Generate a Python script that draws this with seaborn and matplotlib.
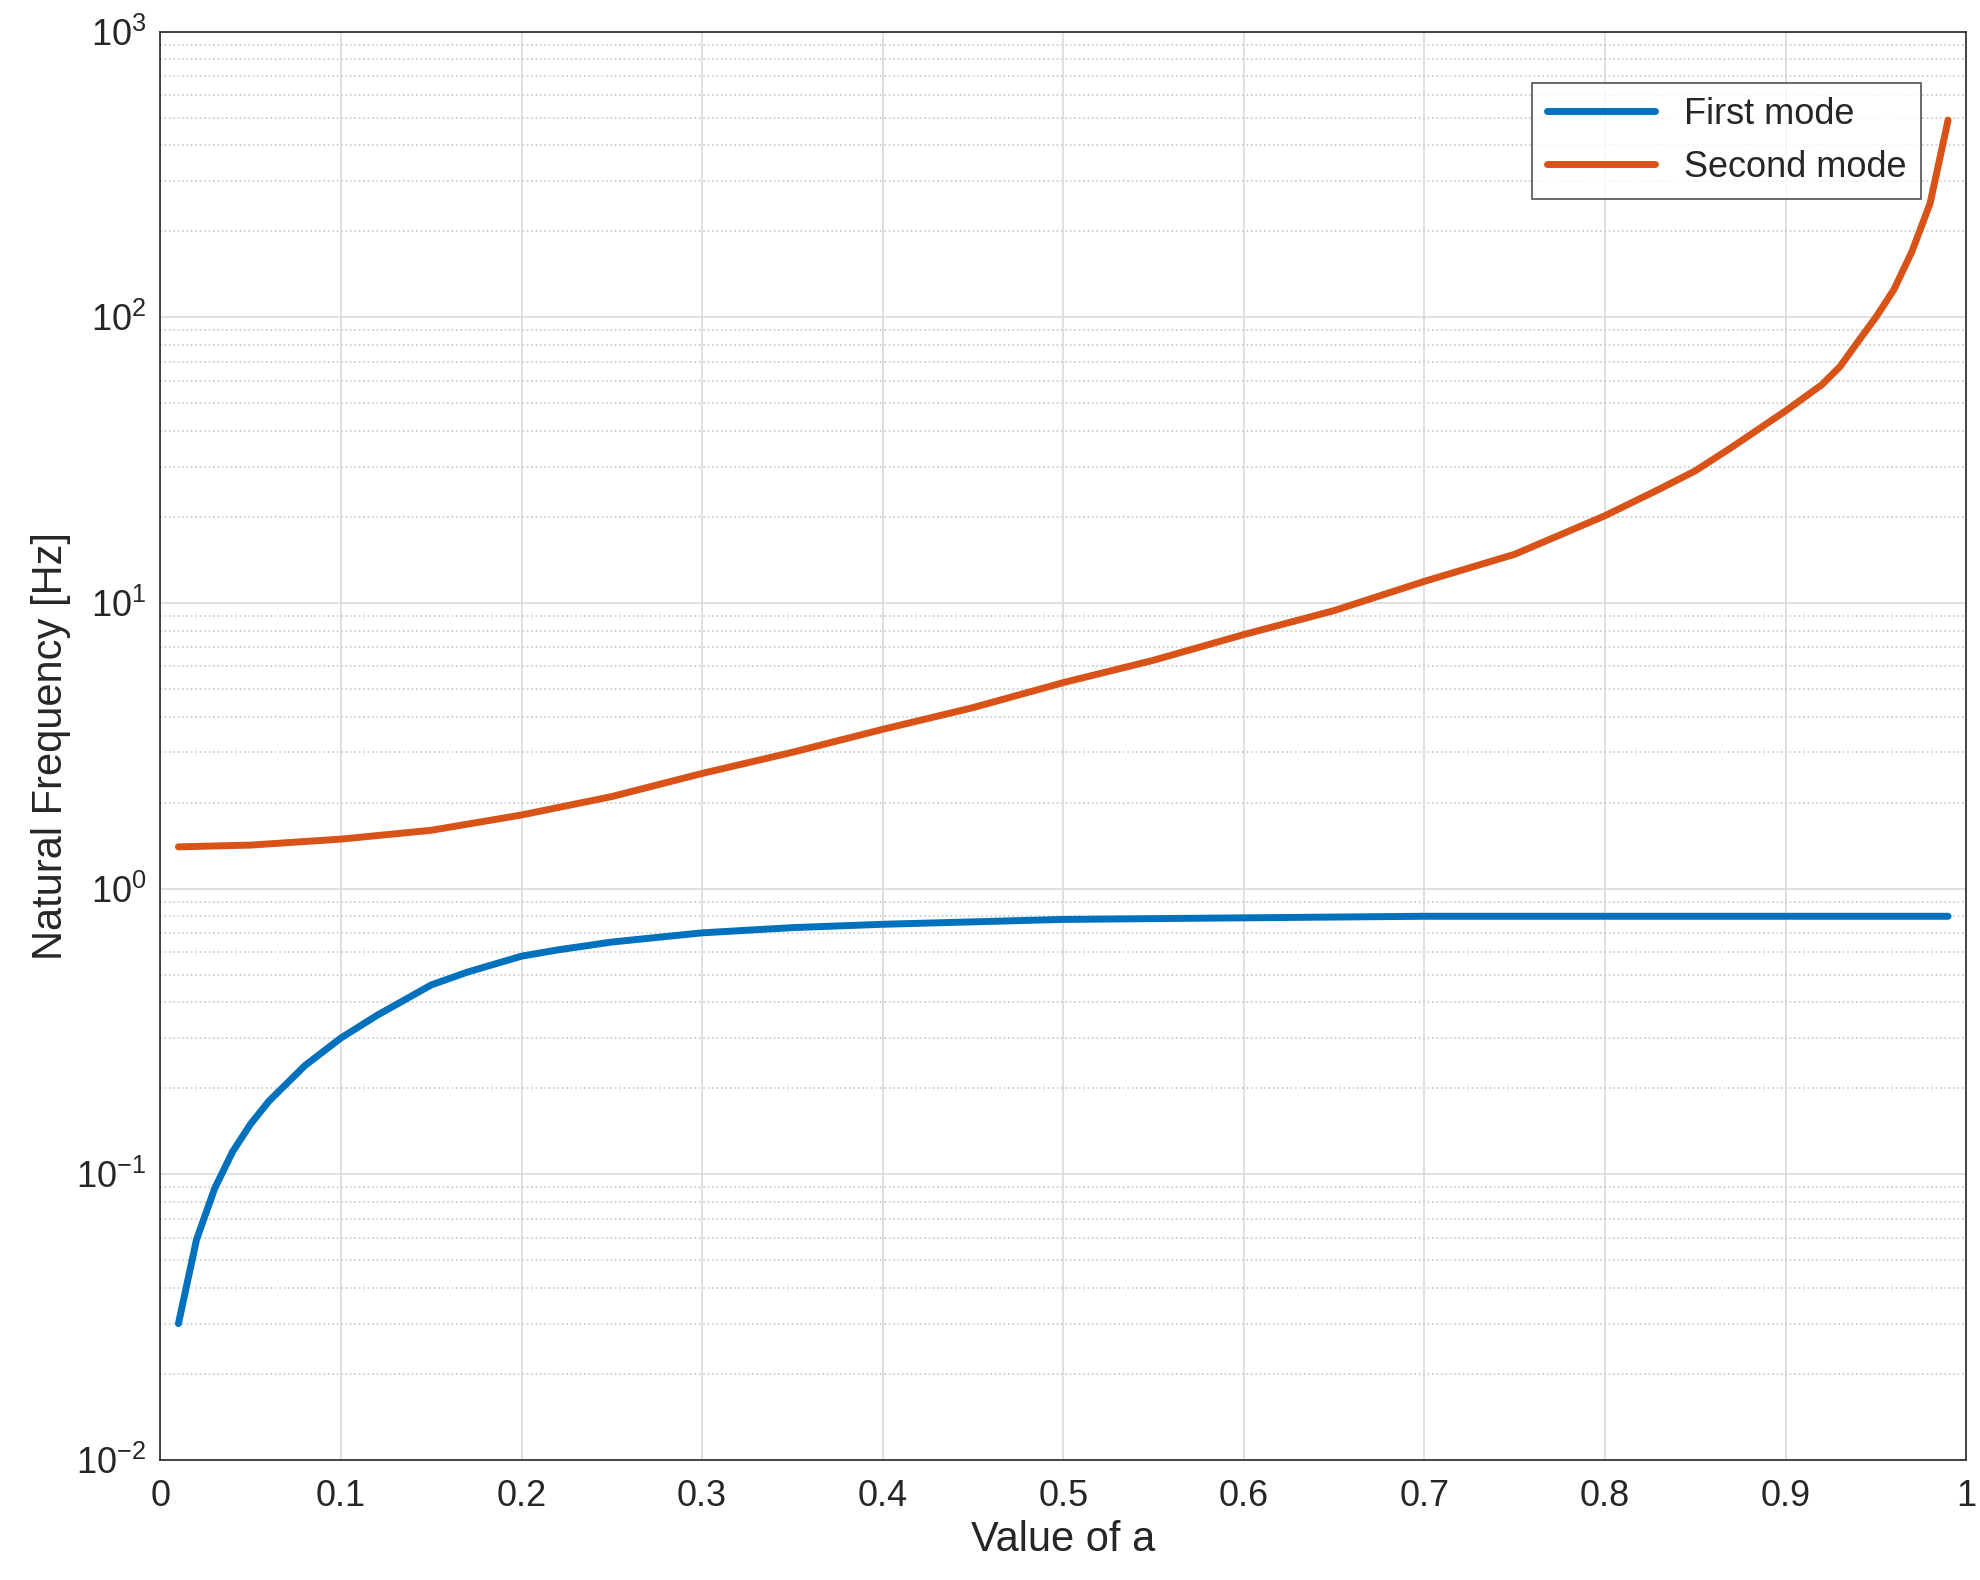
import matplotlib
matplotlib.use("Agg")
import matplotlib.pyplot as plt
import matplotlib.ticker as mticker
import numpy as np
import pandas as pd
import seaborn as sns

A_FIRST = [0.01, 0.02, 0.03, 0.04, 0.05, 0.06, 0.08, 0.10, 0.12, 0.15, 0.17, 0.20,
           0.22, 0.25, 0.30, 0.35, 0.40, 0.50, 0.60, 0.70, 0.80, 0.90, 0.99]
F_FIRST = [0.030, 0.059, 0.089, 0.12, 0.15, 0.18, 0.24, 0.30, 0.36, 0.46, 0.51, 0.58,
           0.61, 0.65, 0.70, 0.73, 0.75, 0.78, 0.79, 0.80, 0.80, 0.80, 0.80]

A_SECOND = [0.01, 0.05, 0.10, 0.15, 0.20, 0.25, 0.30, 0.35, 0.40, 0.45, 0.50, 0.55,
            0.60, 0.65, 0.70, 0.75, 0.80, 0.83, 0.85, 0.87, 0.90, 0.92, 0.93, 0.94,
            0.95, 0.96, 0.97, 0.98, 0.99]
F_SECOND = [1.40, 1.42, 1.49, 1.60, 1.81, 2.10, 2.53, 3.00, 3.61, 4.30, 5.26, 6.30,
            7.75, 9.40, 11.9, 14.8, 20.2, 25.0, 29.0, 35.0, 47.0, 58.0, 67.0, 82.0,
            100.0, 125.0, 170.0, 250.0, 490.0]

sns.set_theme(style="white")
plt.rcParams["font.family"] = ["Liberation Sans", "DejaVu Sans"]

df = pd.concat([
    pd.DataFrame({"a": A_FIRST, "f": F_FIRST, "mode": "First mode"}),
    pd.DataFrame({"a": A_SECOND, "f": F_SECOND, "mode": "Second mode"}),
])

fig = plt.figure(figsize=(19.8, 15.8), dpi=100)
ax = fig.add_axes([0.081, 0.076, 0.912, 0.904])
sns.lineplot(data=df, x="a", y="f", hue="mode", palette=["#0072BD", "#D95319"],
             linewidth=5, ax=ax)
ax.set_yscale("log")
ax.set_xlim(0, 1)
ax.set_ylim(1e-2, 1e3)
ax.set_xticks(np.arange(0, 1.01, 0.1))
ax.xaxis.set_major_formatter(mticker.FuncFormatter(lambda v, p: "0" if v == 0 else ("1" if abs(v - 1) < 1e-9 else f"{v:.1f}")))
ax.yaxis.set_major_locator(mticker.LogLocator(base=10, numticks=10))
ax.yaxis.set_minor_locator(mticker.LogLocator(base=10, subs=np.arange(2, 10), numticks=20))
ax.yaxis.set_minor_formatter(mticker.NullFormatter())
ax.grid(which="major", color="#DADADA", linewidth=1.2)
ax.grid(which="minor", axis="y", color="#C8C8C8", linestyle=":", linewidth=1.2)
ax.tick_params(axis="both", which="major", labelsize=26, direction="in", length=8, colors="#262626")
ax.tick_params(axis="x", which="major", pad=14)
ax.tick_params(axis="y", which="major", pad=10)
ax.tick_params(axis="y", which="minor", direction="in", length=4)
for s in ax.spines.values():
    s.set_color("#262626")
    s.set_linewidth(1.2)
ax.set_xlabel("Value of a", fontsize=30, color="#262626", labelpad=4)
ax.set_ylabel("Natural Frequency [Hz]", fontsize=30, color="#262626")
leg = ax.legend(loc="upper right", fontsize=26, frameon=True, fancybox=False,
                edgecolor="#262626", handlelength=3, bbox_to_anchor=(0.985, 0.977))
leg.get_frame().set_linewidth(1.2)
for line in leg.get_lines():
    line.set_linewidth(5)
fig.savefig("out.png", dpi=100)
